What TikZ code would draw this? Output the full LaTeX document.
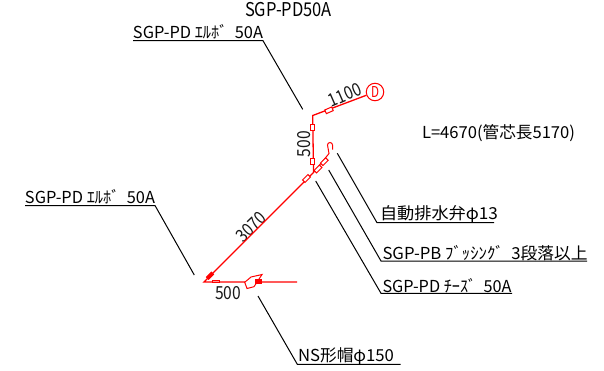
\documentclass[tikz,border=0pt]{standalone}
\usepackage{graphicx}
\usepackage{fontspec}
\setmainfont{Noto Sans CJK JP}
\newcommand{\fitw}[2]{\resizebox{#1pt}{\height}{#2}}
\tikzset{
  x=1pt,y=-1pt,
  pipe/.style={draw=red,line width=1.3pt},
  thinred/.style={draw=red,line width=1pt},
  fitbox/.style={draw=red,line width=1pt,fill=white,inner sep=0pt,minimum width=#1},
  leader/.style={draw=black,line width=1pt},
  lbl/.style={inner sep=0pt,font=\fontsize{16.5}{16.5}\selectfont,text=black},
  dim/.style={inner sep=0pt,font=\fontsize{18}{18}\selectfont,text=black!90},
  tip/.style={inner sep=0pt,minimum size=0pt}
}
\begin{document}
\begin{tikzpicture}
\useasboundingbox (0,0) rectangle (604,370);
\fill[white] (0,0) rectangle (604,370);
% pipe vertices
\coordinate (corner) at (312.7,115.5);
\coordinate (tee) at (313.5,172.5);
\coordinate (low) at (204,282);
\coordinate (rend) at (297,282);
\coordinate (branch) at (329,153.5);
% labels
\node[lbl] (title) at (288.5,10) {\fontsize{19}{19}\selectfont\fitw{87}{SGP-PD50A}};
\node[lbl] (elbowtop) at (198,31.5) {\fitw{130}{SGP-PD ｴﾙﾎﾞ~~50A}};
\node[lbl] (elbowleft) at (90,196.5) {\fitw{130}{SGP-PD ｴﾙﾎﾞ~~50A}};
\node[lbl] (air) at (439,214) {\fitw{118}{自動排水弁φ13}};
\node[lbl] (bush) at (485,253) {\fitw{205}{SGP-PB ﾌﾞｯｼﾝｸﾞ~~3段落以上}};
\node[lbl] (teelbl) at (447,285.5) {\fitw{129}{SGP-PD ﾁｰｽﾞ~~50A}};
\node[lbl] (cap) at (346,356.5) {\fitw{96}{NS形帽φ150}};
\node[lbl] (length) at (498.5,133) {\fitw{153}{L=4670(管芯長5170)}};
\node[dim,rotate=23.5] (d1100) at (345,95) {\fitw{34}{1100}};
\node[dim,rotate=90] (d500v) at (304,144) {\fitw{26}{500}};
\node[dim,rotate=44] (d3070) at (251,227) {\fitw{34}{3070}};
\node[dim] (d500h) at (228,293) {\fitw{26}{500}};
% D marker
\node[draw=red,circle,line width=1pt,minimum size=17.5pt,inner sep=0pt,text=red,font=\fontsize{15}{15}\selectfont] (D) at (375,92) {\fitw{8}{D}};
% pipes
\draw[pipe] (D) -- (corner) -- (tee) -- (low) -- (rend);
\draw[thinred] (tee) -- (branch) -- (327.5,145) arc[start angle=180,end angle=360,radius=2.5] -- (332.5,149.5);
% fittings
\node[fitbox=4.5pt,minimum height=6.5pt] (f1) at (312.7,127.3) {};
\node[fitbox=4.5pt,minimum height=6.5pt] (f2) at (312.7,161.6) {};
\node[fitbox=7.5pt,minimum height=4pt,rotate=23.5] (f3) at (329,110.3) {};
\node[fitbox=7.5pt,minimum height=3.5pt,rotate=45] (f4) at (306.5,178.5) {};
\node[fitbox=7.5pt,minimum height=3.5pt,rotate=45] (f5) at (318,169) {};
\node[fitbox=7.5pt,minimum height=3.5pt,rotate=45] (f6) at (324.3,161.7) {};
\node[fitbox=7pt,minimum height=3pt,rotate=45,fill=red] (f7) at (210,275.7) {};
\node[fitbox=7pt,minimum height=2.5pt,fill=red!40] (f8) at (215.7,281.7) {};
% cap
\draw[red,line width=1pt,fill=white] (244.7,282.3) -- (251,277) -- (262,274.5) -- (254,286.7) -- (247,288.5) -- cycle;
\node[fitbox=6pt,minimum height=4pt,fill=red] (capjoint) at (258,281) {};
% leaders
\coordinate (t1) at (302.7,109.3); \coordinate (u1a) at (133,40.7); \coordinate (u1b) at (263,40.7);
\coordinate (t2) at (194.3,275); \coordinate (u2a) at (25,205.5); \coordinate (u2b) at (155,205.5);
\coordinate (t3) at (337.3,153.3); \coordinate (u3a) at (377,222.7); \coordinate (u3b) at (494,222.7);
\coordinate (t4) at (328.7,170); \coordinate (u4a) at (381,261); \coordinate (u4b) at (587,261);
\coordinate (t5) at (315.7,181); \coordinate (u5a) at (381,293.3); \coordinate (u5b) at (512,293.3);
\coordinate (t6) at (258,296); \coordinate (u6a) at (297.3,364.3); \coordinate (u6b) at (400.7,364.3);
\draw[leader] (u1a) -- (u1b) -- (t1);
\draw[leader] (u2a) -- (u2b) -- (t2);
\draw[leader] (t3) -- (u3a) -- (u3b);
\draw[leader] (t4) -- (u4a) -- (u4b);
\draw[leader] (t5) -- (u5a) -- (u5b);
\draw[leader] (t6) -- (u6a) -- (u6b);
\end{tikzpicture}
\end{document}
